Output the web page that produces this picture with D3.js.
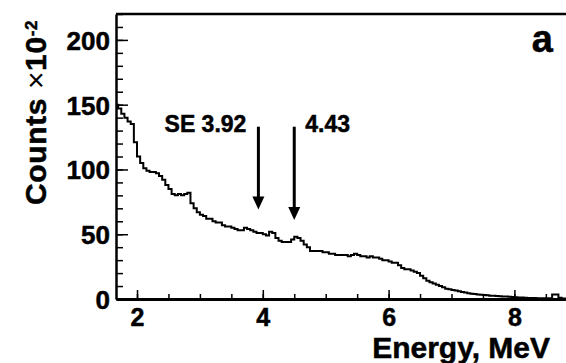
<!DOCTYPE html>
<html>
<head>
<meta charset="utf-8">
<script src="https://cdn.jsdelivr.net/npm/d3@7/dist/d3.min.js"></script>
<style>
body { margin: 0; background: #fff; }
svg text { font-family: "Liberation Sans", Arial, sans-serif; font-weight: bold; fill: #000; stroke: #000; stroke-width: 0.5px; }
.axis path, .axis line { stroke: #000; }
</style>
</head>
<body>
<svg width="566" height="363"></svg>
<script>
// histogram: bins of 0.05 MeV starting at 1.65 MeV, counts in units of 10^2
var binStart = 1.65, binWidth = 0.05;
var counts = [
  150, 147, 143, 140, 137, 135, 121, 110, 105, 101,   // 1.65 - 2.10
  99, 98, 98, 97, 95, 92, 88, 85, 81, 80,              // 2.15 - 2.60
  81, 80, 81, 82, 74, 70, 67, 65, 64, 62,              // 2.65 - 3.10
  62, 60, 59, 59, 57, 56, 56, 55, 54, 53,              // 3.15 - 3.60
  53, 55, 54, 53, 52, 51, 51, 50, 49, 52,              // 3.65 - 4.10
  51, 47, 45, 44, 44, 44, 46, 48, 47, 45,              // 4.15 - 4.60
  42, 40, 37, 37, 37, 37, 36, 36, 35, 35,              // 4.65 - 5.10
  34, 34, 34, 34, 33, 34, 35, 34, 33, 33,              // 5.15 - 5.60
  32, 33, 32, 32, 31, 30, 30, 29, 28, 28,              // 5.65 - 6.10
  26, 24, 23, 23, 22, 21, 20, 18, 16, 14,              // 6.15 - 6.60
  13, 12, 11, 10, 9, 8, 7.5, 7, 6.5, 6,                // 6.65 - 7.10
  5.5, 5, 4.5, 4, 3.8, 3.5, 3.2, 3, 2.8, 2.6,          // 7.15 - 7.60
  2.5, 2.3, 2.2, 2.0, 1.9, 1.7, 1.5, 1.4, 1.2, 1.1,    // 7.65 - 8.10
  1.0, 0.8, 0.8, 0.7, 0.6, 0.6, 0.5, 0.5, 0.5, 3.5,    // 8.15 - 8.60
  3.5, 1.0, 0.4, 0.4, 0.3                              // 8.65 - 8.85
];
var yMajorTicks = [0, 50, 100, 150, 200];
var yMinorTicks = d3.range(0, 221, 10);
var xMajorTicks = [2, 4, 6, 8];
var xMinorTicks = d3.range(2, 9.01, 0.5);
var arrowEnergies = [3.93, 4.5];
var arrowTop = 133;
var arrowTips = [69, 61];
var arrowLabels = ["SE 3.92", "4.43"];

var svg = d3.select("svg"),
    margin = { top: 14, left: 116, bottom: 64 },
    plotRight = 571,
    height = +svg.attr("height") - margin.top - margin.bottom;

svg.append("rect").attr("width", 566).attr("height", 363).attr("fill", "#fff");

var x = d3.scaleLinear().domain([1.666, 8.9]).range([margin.left, plotRight]),
    y = d3.scaleLinear().domain([0, 220]).range([margin.top + height, margin.top]);

// clip voor het histogram
svg.append("clipPath").attr("id", "clip")
    .append("rect")
    .attr("x", margin.left).attr("y", margin.top)
    .attr("width", plotRight - margin.left).attr("height", height);

// histogram outline
var pts = counts.map(function (c, i) { return [binStart + i * binWidth, c]; });
pts.push([binStart + counts.length * binWidth, counts[counts.length - 1]]);

svg.append("path")
    .datum(pts)
    .attr("clip-path", "url(#clip)")
    .attr("fill", "none")
    .attr("stroke", "#000")
    .attr("stroke-width", 2)
    .attr("d", d3.line()
        .x(function (d) { return x(d[0]); })
        .y(function (d) { return y(d[1]); })
        .curve(d3.curveStepAfter));

// minor ticks y
svg.append("g")
    .attr("class", "axis")
    .attr("transform", "translate(" + margin.left + ",0)")
    .call(d3.axisLeft(y).tickValues(yMinorTicks).tickSize(-7).tickFormat(""))
    .call(function (g) { g.select(".domain").remove(); })
    .selectAll("line").attr("stroke-width", 1.5);

// major ticks y
var yAxis = svg.append("g")
    .attr("class", "axis")
    .attr("transform", "translate(" + margin.left + ",0)")
    .call(d3.axisLeft(y).tickValues(yMajorTicks).tickSize(-12).tickSizeOuter(0).tickPadding(6));
yAxis.selectAll("line").attr("stroke-width", 1.5);
yAxis.select(".domain").attr("stroke-width", 2.5);
yAxis.selectAll("text").attr("font-size", 26).attr("dy", "0.36em");

// minor ticks x
svg.append("g")
    .attr("class", "axis")
    .attr("transform", "translate(0," + (margin.top + height) + ")")
    .call(d3.axisBottom(x).tickValues(xMinorTicks).tickSize(-5).tickFormat(""))
    .call(function (g) { g.select(".domain").remove(); })
    .selectAll("line").attr("stroke-width", 1.5);

// major ticks x
var xAxis = svg.append("g")
    .attr("class", "axis")
    .attr("transform", "translate(0," + (margin.top + height) + ")")
    .call(d3.axisBottom(x).tickValues(xMajorTicks).tickSize(-9).tickSizeOuter(0).tickPadding(9));
xAxis.selectAll("line").attr("stroke-width", 1.5);
xAxis.select(".domain").attr("stroke-width", 3);
xAxis.selectAll("text").attr("font-size", 25).attr("dy", "0.71em");

// top frame line
svg.append("line")
    .attr("x1", margin.left).attr("x2", plotRight)
    .attr("y1", margin.top).attr("y2", margin.top)
    .attr("stroke", "#000").attr("stroke-width", 2.5);

// arrows and labels
arrowEnergies.forEach(function (e, i) {
    var ax = x(e), yTop = y(arrowTop), yTip = y(arrowTips[i]);
    svg.append("line")
        .attr("x1", ax).attr("x2", ax)
        .attr("y1", yTop).attr("y2", yTip - 10)
        .attr("stroke", "#000").attr("stroke-width", 3);
    svg.append("path")
        .attr("d", "M" + (ax - 6) + "," + (yTip - 13) + "L" + (ax + 6) + "," + (yTip - 13) + "L" + ax + "," + yTip + "Z")
        .attr("fill", "#000");
    svg.append("text")
        .attr("x", i === 0 ? ax - 12 : ax + 11)
        .attr("y", yTop + 5)
        .attr("text-anchor", i === 0 ? "end" : "start")
        .attr("font-size", 23)
        .text(arrowLabels[i]);
});

// axis titles
svg.append("text")
    .attr("x", 550).attr("y", 358)
    .attr("text-anchor", "end")
    .attr("font-size", 30)
    .text("Energy, MeV");

var yTitle = svg.append("text")
    .attr("transform", "translate(46,20) rotate(-90)")
    .attr("text-anchor", "end")
    .attr("font-size", 30)
    .attr("letter-spacing", 0.6);
yTitle.append("tspan").text("Counts ");
yTitle.append("tspan").attr("font-weight", "normal").attr("stroke-width", 0).text("\u00d7");
yTitle.append("tspan").text("10");
yTitle.append("tspan").attr("dy", "-0.55em").attr("font-size", 17).text("-2");

// panel letter
svg.append("text")
    .attr("x", 553).attr("y", 52)
    .attr("text-anchor", "end")
    .attr("font-size", 38)
    .text("a");
</script>
</body>
</html>
